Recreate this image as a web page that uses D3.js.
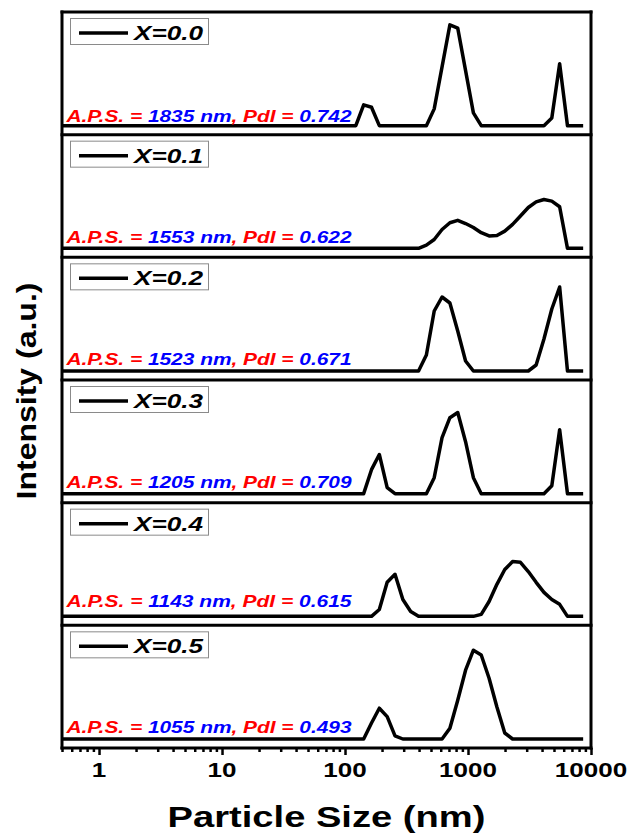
<!DOCTYPE html>
<html><head><meta charset="utf-8">
<script src="https://cdn.jsdelivr.net/npm/d3@7"></script>
<style>
html,body{margin:0;padding:0;background:#fff;}
svg{display:block;}
text{font-family:"Liberation Sans",Arial,Helvetica,sans-serif;font-weight:bold;}
</style>
</head><body>
<svg id="chart" width="632" height="833"></svg>
<script>
// ---------------- data ----------------
const sampleLabels = ["X=0.0", "X=0.1", "X=0.2", "X=0.3", "X=0.4", "X=0.5"];
const apsValues = ["1835", "1553", "1523", "1205", "1143", "1055"];
const pdiValues = ["0.742", "0.622", "0.671", "0.709", "0.615", "0.493"];

// [particle size (nm), intensity (a.u.)]
const seriesX00 = [[0.4,0],[122.4,0],[141.8,5.2],[164.2,4.6],[190.1,0],[458.7,0],[531.2,4.2],[712.4,25.2],[825,24.4],[1106,3.2],[1281,0],[4145,0],[4801,1.9],[5560,15.5],[6439,0],[8635,0]];
const seriesX01 = [[0.4,0],[396.1,0],[458.7,0.8],[531.2,2.2],[615.1,4.7],[712.4,6.4],[825,7.0],[955.4,6.2],[1106,5.2],[1281,3.9],[1484,3.1],[1718,3.2],[1990,4.3],[2305,6.0],[2669,8.1],[3091,10.2],[3580,11.6],[4145,12.2],[4801,11.8],[5560,10.4],[6439,0],[8635,0]];
const seriesX02 = [[0.4,0],[396.1,0],[458.7,4],[531.2,15],[615.1,18.5],[712.4,17],[825,10],[955.4,2.5],[1106,0],[3091,0],[3580,1.5],[4145,8],[4801,15.5],[5560,21],[6439,0],[8635,0]];
const seriesX03 = [[0.4,0],[141.8,0],[164.2,6],[190.1,9.8],[220.2,1.5],[255,0],[458.7,0],[531.2,4],[615.1,14],[712.4,19],[825,20.3],[955.4,13],[1106,4],[1281,0],[4145,0],[4801,2],[5560,16],[6439,0],[8635,0]];
const seriesX04 = [[0.4,0],[164.2,0],[190.1,1.7],[220.2,8.5],[255,10.5],[295.3,4.2],[342,1.2],[396.1,0],[1106,0],[1281,0.5],[1484,3.7],[1718,8],[1990,11.7],[2305,13.7],[2669,13.5],[3091,11.2],[3580,8.5],[4145,6],[4801,4.2],[5560,3],[6439,0],[8635,0]];
const seriesX05 = [[0.4,0],[141.8,0],[164.2,4],[190.1,7.7],[220.2,5.6],[255,0.8],[295.3,0],[615.1,0],[712.4,2.7],[825,9.7],[955.4,17.2],[1106,22.2],[1281,21],[1484,15.2],[1718,8],[1990,1.5],[2305,0],[8635,0]];
const allSeries = [seriesX00, seriesX01, seriesX02, seriesX03, seriesX04, seriesX05];

const majorTicks = [1, 10, 100, 1000, 10000];
const majorTickLabels = ["1", "10", "100", "1000", "10000"];
const xDomain = [0.5, 10000];
const yDomain = [-2.25, 28.42];

// ---------------- layout ----------------
const L = 62, R = 591, T = 12, B = 748;
const nP = allSeries.length;
const pitch = (B - T) / nP;
const annotShift = [1.5, 0, 0, 0, -4, 0];

const svg = d3.select("#chart");
const x = d3.scaleLog().domain(xDomain).range([L, R]);

svg.append("defs").append("clipPath").attr("id", "plotclip")
  .append("rect").attr("x", L).attr("y", T).attr("width", R - L).attr("height", B - T);

function stretchText(sel, x0, y0, target) {
  const nat = sel.node().getComputedTextLength();
  const k = target / nat;
  sel.attr("x", 0).attr("y", 0).attr("transform", `translate(${x0},${y0}) scale(${k},1)`);
}

const line = d3.line();

allSeries.forEach((data, i) => {
  const top = T + i * pitch;
  const y = d3.scaleLinear().domain(yDomain).range([top + pitch, top]);
  line.x(d => x(d[0])).y(d => y(d[1]));
  svg.append("path").datum(data)
    .attr("clip-path", "url(#plotclip)")
    .attr("d", line)
    .attr("fill", "none").attr("stroke", "#000")
    .attr("stroke-width", 3.5).attr("stroke-linejoin", "round");

  // legend
  const g = svg.append("g");
  g.append("rect").attr("x", 70.5).attr("y", top + 6.5).attr("width", 138).attr("height", 26)
    .attr("fill", "#fff").attr("stroke", "#8a8a8a").attr("stroke-width", 1);
  g.append("line").attr("x1", 79).attr("x2", 128).attr("y1", top + 21).attr("y2", top + 21)
    .attr("stroke", "#000").attr("stroke-width", 3.5);
  const lt = g.append("text").attr("font-size", 19.5).attr("font-style", "italic")
    .attr("fill", "#000").text(sampleLabels[i]);
  stretchText(lt, 134, top + 28, 69);

  // annotation
  const at = svg.append("text").attr("font-size", 16.3).attr("font-style", "italic");
  at.append("tspan").attr("fill", "#ff0000").text("A.P.S. = ");
  at.append("tspan").attr("fill", "#0000ff").text(apsValues[i] + " nm");
  at.append("tspan").attr("fill", "#ff0000").text(", PdI = ");
  at.append("tspan").attr("fill", "#0000ff").text(pdiValues[i]);
  at.attr("xml:space", "preserve").style("white-space", "pre");
  stretchText(at, 66.5, top + 108 + annotShift[i], 285);
});

// frame
const frame = svg.append("g").attr("stroke", "#000").attr("stroke-width", 3).attr("stroke-linecap", "square");
frame.append("line").attr("x1", L).attr("x2", L).attr("y1", T).attr("y2", B);
frame.append("line").attr("x1", R).attr("x2", R).attr("y1", T).attr("y2", B);
d3.range(nP + 1).forEach(j => {
  const yy = T + j * pitch;
  frame.append("line").attr("x1", L).attr("x2", R).attr("y1", yy).attr("y2", yy);
});

// x axis ticks
const minorTicks = [];
[0.1, 1, 10, 100, 1000].forEach(dec => {
  for (let m = 2; m <= 9; m++) {
    const v = dec * m;
    if (v >= xDomain[0] && v <= xDomain[1]) minorTicks.push(v);
  }
});
const axisG = svg.append("g").attr("transform", `translate(0,${B})`);
const majorAxis = d3.axisBottom(x).tickValues(majorTicks).tickSize(7).tickFormat(() => "");
const minorAxis = d3.axisBottom(x).tickValues(minorTicks).tickSize(4).tickFormat(() => "");
axisG.append("g").call(minorAxis).call(g => g.select(".domain").remove())
  .selectAll("line").attr("stroke", "#000").attr("stroke-width", 2.5);
axisG.append("g").call(majorAxis).call(g => g.select(".domain").remove())
  .selectAll("line").attr("stroke", "#000").attr("stroke-width", 2.5);

majorTicks.forEach((v, i) => {
  const t = svg.append("text").attr("font-size", 21).attr("text-anchor", "middle")
    .attr("fill", "#000").text(majorTickLabels[i]);
  const nat = t.node().getComputedTextLength();
  stretchText(t, x(v), 777, nat * 1.24);
});

// axis titles
const xt = svg.append("text").attr("font-size", 30).attr("text-anchor", "middle")
  .attr("fill", "#000").text("Particle Size (nm)");
stretchText(xt, (L + R) / 2, 826.5, 318);

const yt = svg.append("text").attr("font-size", 28).attr("text-anchor", "middle")
  .attr("fill", "#000").text("Intensity (a.u.)");
{
  const nat = yt.node().getComputedTextLength();
  const k = 217 / nat;
  yt.attr("x", 0).attr("y", 0).attr("transform", `translate(36,391) rotate(-90) scale(${k},1)`);
}
</script>
</body></html>
